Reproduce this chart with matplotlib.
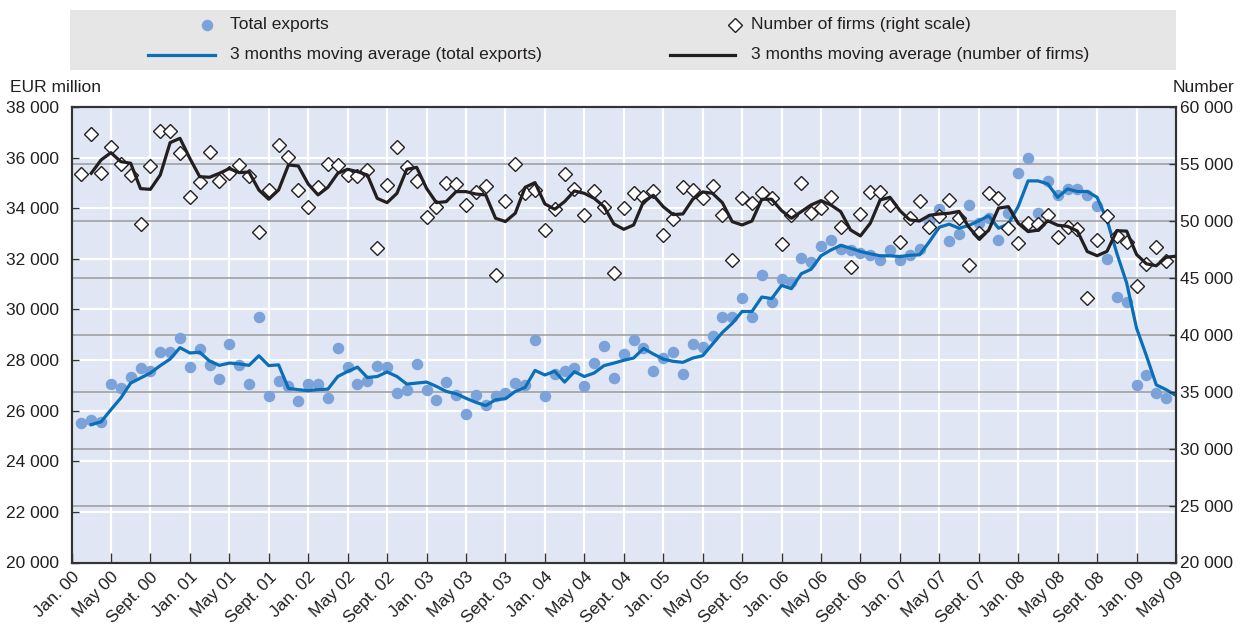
import numpy as np
import matplotlib
matplotlib.use("Agg")
import matplotlib.pyplot as plt
from matplotlib.lines import Line2D
from matplotlib.patches import Rectangle
from matplotlib.transforms import blended_transform_factory

plt.rcParams['font.family'] = ['Liberation Sans Narrow', 'Liberation Sans', 'DejaVu Sans']

# month index: 0 = Jan. 00, 112 = May 09
tick_labels = ["Jan. 00", "May 00", "Sept. 00", "Jan. 01", "May 01", "Sept. 01",
               "Jan. 02", "May 02", "Sept. 02", "Jan. 03", "May 03", "Sept. 03",
               "Jan. 04", "May 04", "Sept. 04", "Jan. 05", "May 05", "Sept. 05",
               "Jan. 06", "May 06", "Sept. 06", "Jan. 07", "May 07", "Sept. 07",
               "Jan. 08", "May 08", "Sept. 08", "Jan. 09", "May 09"]

# Total exports, EUR million (Feb. 00 - Apr. 09)
exports = [25510, 25640, 25540, 27050, 26880, 27350, 27670, 27550, 28310, 28300,
           28880, 27740, 28430, 27800, 27270, 28640, 27810, 27040, 29720, 26590,
           27180, 26990, 26370, 27050, 27050, 26500, 28460, 27710, 27050, 27160,
           27780, 27710, 26700, 26800, 27850, 26830, 26410, 27130, 26630, 25880,
           26600, 26210, 26560, 26700, 27090, 27010, 28780, 26560, 27460, 27550,
           27670, 26960, 27880, 28550, 27300, 28220, 28780, 28490, 27560, 28080,
           28300, 27460, 28630, 28510, 28960, 29720, 29700, 30450, 29720, 31350,
           30280, 31220, 31090, 32050, 31880, 32510, 32750, 32380, 32330, 32250,
           32140, 31960, 32330, 31960, 32140, 32380, 33490, 33960, 32720, 32990,
           34130, 33410, 33600, 32750, 33800, 35410, 35970, 33830, 35090, 34530,
           34760, 34760, 34530, 34070, 31990, 30510, 30280, 27020, 27390, 26700,
           26500]

# 3 months moving average of exports (Mar. 00 - May 09)
exports_ma = [25450, 25560, 26040, 26500, 27090, 27290, 27490, 27780, 28040, 28490,
              28280, 28310, 27960, 27790, 27880, 27850, 27790, 28170, 27780, 27810,
              26880, 26830, 26790, 26830, 26850, 27350, 27550, 27720, 27310, 27350,
              27530, 27350, 27050, 27090, 27130, 26960, 26760, 26670, 26490, 26330,
              26200, 26430, 26470, 26760, 26920, 27590, 27410, 27560, 27130, 27540,
              27350, 27490, 27780, 27880, 27990, 28080, 28460, 28240, 28040, 27950,
              27910, 28080, 28170, 28630, 29090, 29450, 29920, 29920, 30490, 30430,
              30950, 30820, 31410, 31590, 32120, 32350, 32530, 32420, 32290, 32200,
              32120, 32120, 32090, 32140, 32160, 32680, 33250, 33370, 33210, 33320,
              33500, 33700, 33210, 33380, 34070, 35080, 35080, 34960, 34430, 34760,
              34660, 34660, 34430, 33540, 32220, 31040, 29260, 28170, 27020, 26830,
              26600]

# Number of firms (right scale)
firms = [54120, 57630, 54180, 56460, 55000, 54000, 49700, 54820, 57920, 57920,
         55990, 52070, 53450, 56050, 53530, 54240, 54910, 53940, 49030, 52710,
         56660, 55580, 52710, 51250, 53010, 54970, 54910, 54030, 53940, 54470,
         47590, 53120, 56520, 54700, 53530, 50320, 51250, 53300, 53240, 51400,
         52570, 53070, 45250, 51780, 55000, 52480, 52710, 49200, 51050, 54090,
         52800, 50490, 52660, 51250, 45400, 51160, 52420, 52130, 52660, 48740,
         50200, 53010, 52710, 51980, 53070, 50550, 46570, 51980, 51600, 52420,
         51980, 47970, 50520, 53360, 50670, 51110, 52130, 49440, 45930, 50610,
         52540, 52540, 51400, 48180, 50230, 51780, 49500, 50430, 51840, 50230,
         46130, 48970, 52420, 51980, 49350, 48030, 49790, 49730, 50520, 48620,
         49440, 49290, 43210, 48330, 50430, 48680, 48180, 44290, 46220, 47680,
         46510]

# 3 months moving average of number of firms
firms_ma = [54180, 55350, 55990, 55200, 55060, 52830, 52770, 54030, 56870, 57250,
            55490, 53880, 53830, 54180, 54590, 54240, 54290, 52710, 51900, 52710,
            54910, 54820, 53240, 52280, 52950, 54180, 54530, 54320, 54030, 51980,
            51600, 52420, 54530, 54700, 52860, 51600, 51690, 52570, 52570, 52360,
            52280, 50230, 49940, 50670, 52950, 53360, 51490, 51020, 51690, 52630,
            52420, 51980, 51250, 49730, 49260, 49640, 51690, 52250, 51250, 50550,
            50610, 51900, 52540, 52420, 51600, 49930, 49640, 49990, 51900, 51900,
            50900, 50230, 50810, 51400, 51780, 51400, 50810, 49200, 48680, 49790,
            51840, 52070, 50900, 50080, 49990, 50490, 50610, 50670, 50830, 49450,
            48440, 49170, 51120, 51250, 49790, 49060, 49180, 50010, 49620, 49520,
            49110, 47310, 46940, 47320, 49140, 49100, 47050, 46230, 46060, 46800,
            46900]

x_dots = np.arange(1, 1 + len(exports))
x_ma = np.arange(2, 2 + len(exports_ma))

left_ticks = list(range(20000, 38001, 2000))
right_ticks = list(range(20000, 60001, 5000))

W, H = 1242, 624
txt = "#231f20"
fs = 12.5


def fx(px):
    return px / W


def fy(py):
    return 1 - py / H


def fmt(v):
    return f"{v:,}".replace(",", " ")


fig = plt.figure(figsize=(W / 100, H / 100), dpi=100)
ax = fig.add_axes([fx(71.5), fy(562.5), fx(1176) - fx(71.5), fy(107) - fy(562.5)])
ax2 = ax.twinx()
ax.set_facecolor("#e0e6f4")
ax2.patch.set_visible(False)

ax.set_xlim(0, 112)
ax.set_ylim(20000, 38000)
ax2.set_ylim(20000, 60000)

# grids: white for left scale and month ticks, grey for right scale
for v in left_ticks:
    ax.axhline(v, color="white", lw=1.6, zorder=0.5)
for m in range(0, 113, 4):
    ax.axvline(m, color="white", lw=1.6, zorder=0.5)
blend = blended_transform_factory(ax.transAxes, ax2.transData)
for v in right_ticks:
    ax.plot([0, 1], [v, v], transform=blend, color="#9b9b9b", lw=1.1, zorder=0.6)

# exports on left axis
ax.plot(x_dots, exports, "o", color="#7ca3d9", ms=8.3, mec="none", zorder=2)
ax.plot(x_ma, exports_ma, color="#0a6fb7", lw=2.3, zorder=3)

# firms on right axis
ax2.plot(x_dots, firms, "D", mfc="white", mec="#231f20", mew=1.0, ms=7.5, zorder=2)
ax2.plot(x_ma, firms_ma, color="#231f20", lw=2.3, zorder=3)

ax.set_xticks(range(0, 113, 4))
ax.set_xticklabels(tick_labels, rotation=45, ha="right", va="top",
                   rotation_mode="anchor", fontsize=fs, color=txt)
ax.set_yticks(left_ticks)
ax.set_yticklabels([fmt(v) for v in left_ticks], fontsize=fs, color=txt)
ax2.set_yticks(right_ticks)
ax2.set_yticklabels([fmt(v) for v in right_ticks], fontsize=fs, color=txt)

ax.tick_params(axis="x", direction="in", length=7, width=1.0, color="#333333", pad=5)
ax.tick_params(axis="y", direction="in", length=5, width=1.0, color="#333333", pad=9)
ax2.tick_params(axis="y", direction="in", length=5, width=1.0, color="#333333", pad=3)

for a in (ax, ax2):
    for s in a.spines.values():
        s.set_color("#333333")
        s.set_linewidth(1.5)

fig.text(fx(10), fy(88), "EUR million", fontsize=fs, color=txt, ha="left", va="center")
fig.text(fx(1234), fy(88), "Number", fontsize=fs, color=txt, ha="right", va="center")

# legend box
fig.add_artist(Rectangle((fx(70), fy(70)), fx(1176) - fx(70), fy(10) - fy(70),
                         transform=fig.transFigure, facecolor="#e6e6e6", edgecolor="none"))
fig.add_artist(Line2D([fx(207)], [fy(25)], transform=fig.transFigure, marker="o",
                      color="#7ca3d9", ms=8.3, mec="none", ls="none"))
fig.add_artist(Line2D([fx(735)], [fy(25)], transform=fig.transFigure, marker="D",
                      mfc="white", mec="#231f20", mew=1.0, ms=7.5, ls="none"))
fig.add_artist(Line2D([fx(148), fx(215)], [fy(55), fy(55)], transform=fig.transFigure,
                      color="#0a6fb7", lw=2.3))
fig.add_artist(Line2D([fx(670), fx(735)], [fy(55), fy(55)], transform=fig.transFigure,
                      color="#231f20", lw=2.3))
fig.text(fx(230), fy(25), "Total exports", fontsize=fs, color=txt, va="center")
fig.text(fx(751), fy(25), "Number of firms (right scale)", fontsize=fs, color=txt, va="center")
fig.text(fx(230), fy(55), "3 months moving average (total exports)", fontsize=fs, color=txt, va="center")
fig.text(fx(751), fy(55), "3 months moving average (number of firms)", fontsize=fs, color=txt, va="center")

fig.savefig("out.png", dpi=100)
